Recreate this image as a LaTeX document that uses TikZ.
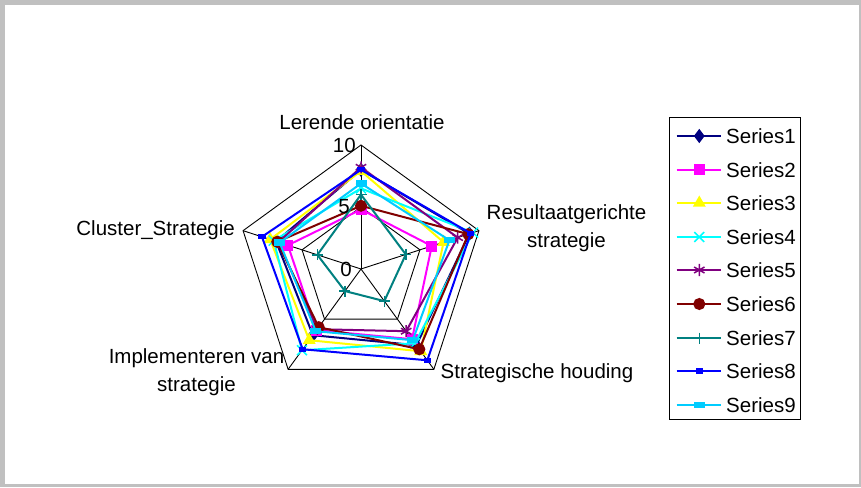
\documentclass[tikz,border=0pt]{standalone}
\usepackage{fontspec}
\setmainfont{Liberation Sans}
\usetikzlibrary{plotmarks}

\definecolor{frame}{RGB}{192,192,192}
\definecolor{c1}{RGB}{0,0,128}
\definecolor{c2}{RGB}{255,0,255}
\definecolor{c3}{RGB}{255,255,0}
\definecolor{c4}{RGB}{0,255,255}
\definecolor{c5}{RGB}{128,0,128}
\definecolor{c6}{RGB}{128,0,0}
\definecolor{c7}{RGB}{0,128,128}
\definecolor{c8}{RGB}{0,0,255}
\definecolor{c9}{RGB}{0,204,255}

\begin{document}
\begin{tikzpicture}[
        x=1pt, y=1pt,
        every node/.style={font=\fontsize{20.5}{27.7}\selectfont, inner sep=0pt, align=center}, % Text styling
        grid/.style={black, line width=0.9pt}, % Web lines
        series/.style={line width=2pt, line join=miter},
        ser1/.style={series, color=c1, mark=diamond*, mark size=5.5pt},
        ser2/.style={series, color=c2, mark=square*, mark size=4.5pt},
        ser3/.style={series, color=c3, mark=triangle*, mark size=5.5pt},
        ser4/.style={series, color=c4, mark=x, mark size=7pt, mark options={line width=1.5pt}},
        ser5/.style={series, color=c5, mark=asterisk, mark size=6pt, mark options={line width=1.5pt}},
        ser6/.style={series, color=c6, mark=*, mark size=5pt},
        ser7/.style={series, color=c7, mark=+, mark size=5.5pt, mark options={line width=1.5pt}},
        ser8/.style={series, color=c8, mark=square*, mark size=2pt, mark options={xscale=1.4, yscale=0.8}},
        ser9/.style={series, color=c9, mark=square*, mark size=3pt, mark options={xscale=1.5, yscale=0.7}}
        ]

        % Background with grey frame
        \fill[frame] (-361,-218) rectangle (500,269);
        \fill[white] (-356,-215) rectangle (498,264);

        % Web and data, one unit = value 1
        \begin{scope}[x=12.4pt, y=12.4pt]
            \foreach \r in {5,10}
                \draw[grid] (90:\r) -- (18:\r) -- (-54:\r) -- (-126:\r) -- (162:\r) -- cycle;
            \foreach \a in {90,18,-54,-126,162}
                \draw[grid] (0,0) -- (\a:10);

            % Series, first drawn at the bottom
            \draw[ser1] plot coordinates {(90:8.0) (18:9.2) (-54:7.6) (-126:6.6) (162:7.2)} -- cycle;
            \draw[ser2] plot coordinates {(90:4.8) (18:6.0) (-54:7.0) (-126:6.1) (162:6.2)} -- cycle;
            \draw[ser3] plot coordinates {(90:7.9) (18:7.0) (-54:8.2) (-126:7.1) (162:7.7)} -- cycle;
            \draw[ser4] plot coordinates {(90:6.5) (18:9.5) (-54:7.4) (-126:8.1) (162:7.4)} -- cycle;
            \draw[ser5] plot coordinates {(90:8.2) (18:8.2) (-54:6.2) (-126:6.0) (162:7.0)} -- cycle;
            \draw[ser6] plot coordinates {(90:5.1) (18:9.1) (-54:8.0) (-126:5.8) (162:7.1)} -- cycle;
            \draw[ser7] plot coordinates {(90:6.0) (18:3.8) (-54:3.2) (-126:2.2) (162:3.7)} -- cycle;
            \draw[ser8] plot coordinates {(90:8.0) (18:9.3) (-54:9.1) (-126:8.0) (162:8.4)} -- cycle;
            \draw[ser9] plot coordinates {(90:6.9) (18:7.5) (-54:7.1) (-126:6.2) (162:6.9)} -- cycle;
        \end{scope}

        % Axis values
        \node (ten) [anchor=east] at (-5,124) {10};
        \node (five) [anchor=east] at (-11,62) {5};
        \node (zero) [anchor=east] at (-9,0) {0};

        % Category labels
        \node (lerende) at (1,147) {Lerende orientatie};
        \node (resultaat) at (205.5,41) {Resultaatgerichte\\strategie};
        \node (houding) at (176,-104) {Strategische houding};
        \node (implement) at (-164.5,-103) {Implementeren van\\strategie};
        \node (cluster) [anchor=east] at (-126,39) {Cluster\_Strategie};

        % Legend
        \draw[black, line width=0.9pt] (308.3,151.7) rectangle (439.7,-150.3);
        \foreach \s [count=\i, evaluate=\i as \yy using round(133-33.6*(\i-1))] in {ser1,ser2,ser3,ser4,ser5,ser6,ser7,ser8,ser9} {
            \draw[\s, mark indices={2}] plot coordinates {(315.7,\yy) (338.3,\yy) (360,\yy)};
            \node (leg\i) [anchor=west] at (365,\yy) {Series\i};
        }

    \end{tikzpicture}
\end{document}
